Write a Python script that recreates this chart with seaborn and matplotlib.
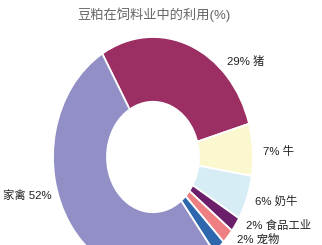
import matplotlib
matplotlib.use("Agg")
import matplotlib.pyplot as plt
import seaborn as sns

# ---- data ----
categories = ["猪", "牛", "奶牛", "食品工业", "宠物", "水产", "家禽"]
values = [29, 7, 6, 2, 2, 2, 52]
label_texts = ["29% 猪", "7% 牛", "6% 奶牛", "2% 食品工业", "2% 宠物", "", "家禽 52%"]
title_text = "豆粕在饲料业中的利用(%)"

colors = ["#9B2F63", "#FBF8CF", "#D6EDF5", "#6B1F6A", "#EE7F82", "#2F67AE", "#928FC6"]

sns.set_theme(style="white")
plt.rcParams["font.family"] = ["Liberation Sans", "Noto Sans CJK SC", "DejaVu Sans"]

W, H = 322, 245
fig = plt.figure(figsize=(W / 100, H / 100), dpi=100)
fig.patch.set_facecolor("white")
ax = fig.add_axes([0, 0, 1, 1])

ax.pie(values, colors=sns.color_palette(colors), startangle=120.5, counterclock=False,
       radius=1.0, wedgeprops=dict(width=0.54, edgecolor="white", linewidth=1.3))

# donut centre at pixel (153, 157 from top); radii 100 px horizontal, 120 px vertical
cx, cy, rx, ry = 153, 157, 100, 120
ax.set_aspect("auto")
ax.set_xlim(-cx / rx, (W - cx) / rx)
ax.set_ylim(-(H - cy) / ry, cy / ry)
ax.axis("off")

# title
fig.text(154 / W, 1 - 15 / H, title_text, ha="center", va="center",
         fontsize=9.5, color="#666666")

# slice labels (layout positions in pixels)
label_pos = [(227, 61), (263, 151), (255, 201), (246, 225), (237, 239), None, (3, 195)]
for txt, pos in zip(label_texts, label_pos):
    if pos is None or not txt:
        continue
    fig.text(pos[0] / W, 1 - pos[1] / H, txt, ha="left", va="center",
             fontsize=8.2, color="#222222")

fig.savefig("out.png", dpi=100, facecolor="white")
